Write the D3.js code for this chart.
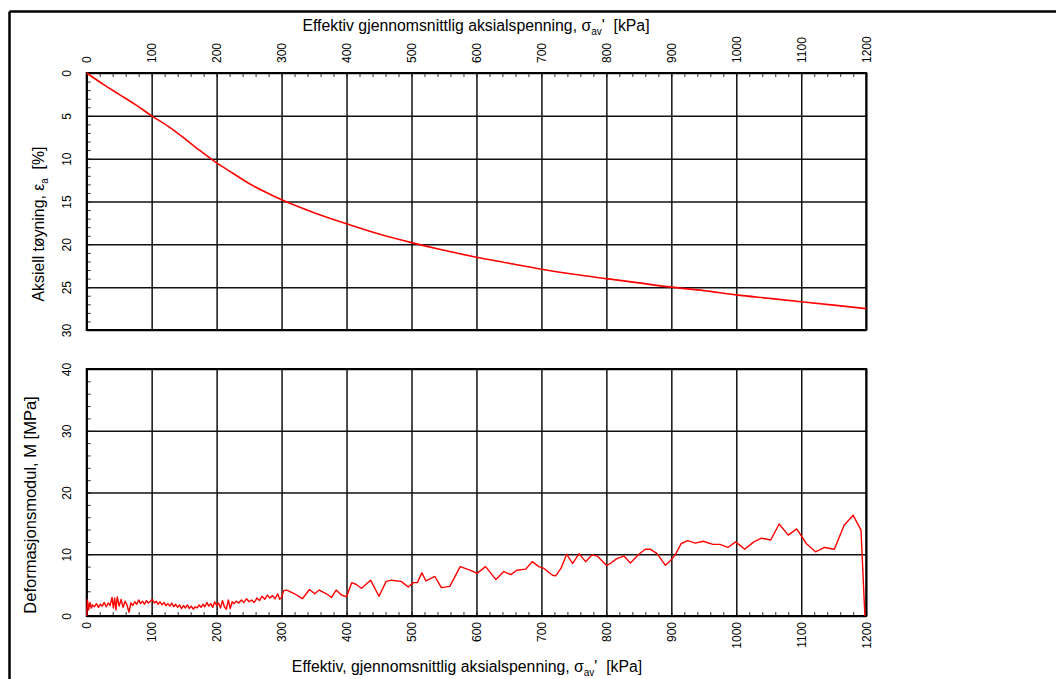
<!DOCTYPE html>
<html>
<head>
<meta charset="utf-8">
<script src="https://cdn.jsdelivr.net/npm/d3@7"></script>
<style>
  body { margin: 0; background: #fff; }
  svg { font-family: "Liberation Sans", Arial, sans-serif; }
  .grid line { stroke: #111; stroke-width: 1.5; }
  .grid path { display: none; }
  .minor line { stroke: #333; stroke-width: 1; }
  .minor path { display: none; }
  .lbl text { font-size: 12px; fill: #000; }
</style>
</head>
<body>
<div id="chart"></div>
<script>
// axial strain curve (top panel)
var strainStress = [0, 25, 50, 75, 100, 125, 150, 175, 200, 225, 250, 275, 300, 350, 400, 450, 500, 550,
  600, 650, 700, 750, 800, 850, 900, 950, 1000, 1050, 1100, 1150, 1200];
var strainValue = [0, 1.3, 2.5, 3.7, 5.0, 6.2, 7.6, 9.1, 10.5, 11.7, 12.9, 13.9, 14.8, 16.3, 17.6, 18.8, 19.8, 20.7,
  21.5, 22.2, 22.9, 23.5, 24.0, 24.5, 25.0, 25.4, 25.9, 26.3, 26.7, 27.1, 27.5];

// deformation modulus (bottom panel)
var modStress = [0, 1, 3, 5, 7, 9, 12, 15, 18, 21, 24, 27, 30, 33, 36, 39, 41, 43, 45, 47,
  50, 53, 56, 59, 62, 65, 68, 71, 74, 77, 80, 83, 86, 89, 92, 95, 98, 101, 104, 107,
  110, 113, 116, 119, 122, 125, 128, 131, 134, 137, 140, 143, 146, 149, 152, 155, 158, 161, 164, 167,
  170, 173, 176, 179, 182, 185, 188, 191, 194, 197, 200, 203, 206, 209, 212, 215, 218, 221, 224, 227,
  230, 234, 238, 242, 246, 250, 254, 258, 262, 266, 270, 274, 278, 282, 286, 290, 294, 297, 300, 303,
  308, 320, 332, 343, 351, 358, 369, 377, 384, 392, 400, 408, 415, 423, 437, 450, 461, 469, 484, 495,
  503, 509, 516, 522, 536, 546, 559, 575, 591, 601, 614, 630, 642, 653, 662, 676, 686, 696, 704, 717,
  722, 730, 739, 748, 758, 768, 778, 786, 800, 806, 816, 827, 837, 850, 860, 868, 878, 891, 898, 906,
  915, 925, 937, 949, 964, 975, 987, 999, 1013, 1027, 1039, 1053, 1066, 1080, 1093, 1108, 1122, 1136, 1151, 1166,
  1180, 1192, 1198];
var modValue = [0, 2.6, 1.0, 2.2, 1.3, 1.8, 1.5, 2.0, 1.4, 1.9, 1.6, 2.2, 1.5, 2.1, 1.7, 3.0, 1.3, 2.9, 1.0, 3.1,
  1.6, 2.7, 1.4, 2.4, 1.8, 0.6, 2.1, 1.7, 2.3, 1.9, 2.6, 2.0, 2.4, 1.9, 2.5, 2.1, 2.4, 2.7, 2.1, 2.4,
  1.9, 2.3, 1.8, 2.2, 1.7, 2.0, 1.6, 2.1, 1.5, 1.9, 1.4, 1.8, 1.2, 1.7, 1.3, 1.8, 1.2, 1.6, 1.1, 1.5,
  1.3, 1.8, 1.4, 1.9, 1.5, 2.2, 1.6, 2.0, 1.4, 2.3, 1.7, 2.1, 1.3, 2.5, 1.5, 1.1, 2.6, 1.2, 2.3, 2.0,
  2.4, 2.1, 2.6, 2.2, 2.8, 2.3, 2.6, 2.2, 2.9, 2.5, 3.2, 2.7, 3.4, 2.9, 3.3, 2.8, 3.6, 2.7, 3.0, 4.1,
  4.2, 3.6, 2.8, 4.3, 3.6, 4.2, 3.6, 3.0, 4.2, 3.4, 3.1, 5.4, 5.1, 4.5, 5.8, 3.2, 5.6, 5.8, 5.6, 4.7,
  5.4, 5.4, 7.0, 5.7, 6.4, 4.6, 4.8, 8.0, 7.4, 6.9, 8.0, 5.9, 7.2, 6.7, 7.4, 7.6, 8.8, 8.0, 7.7, 6.6,
  6.5, 7.7, 10.0, 8.5, 10.1, 8.8, 9.9, 9.7, 8.2, 8.5, 9.3, 9.7, 8.6, 10.0, 10.8, 10.8, 10.1, 8.2, 8.9, 9.9,
  11.7, 12.2, 11.8, 12.1, 11.6, 11.6, 11.1, 12.0, 10.8, 12.0, 12.6, 12.3, 14.9, 13.1, 14.1, 11.7, 10.4, 11.1, 10.8, 14.7,
  16.3, 13.9, 0];

var xMajor = d3.range(0, 1201, 100);

var width = 1056, height = 679;
var left = 86.7, right = 866.2;
var topY0 = 73, topY1 = 330;
var botY0 = 369, botY1 = 616;

var svg = d3.select("#chart").append("svg")
  .attr("width", width).attr("height", height);

// outer frame lines
svg.append("line").attr("x1", 9.5).attr("x2", width).attr("y1", 11.5).attr("y2", 11.5)
  .style("stroke", "#000").style("stroke-width", 2.5);
svg.append("line").attr("x1", 9.5).attr("x2", 9.5).attr("y1", 11.5).attr("y2", height)
  .style("stroke", "#000").style("stroke-width", 2.5);

var x = d3.scaleLinear().domain([0, 1200]).range([left, right]);
var yTop = d3.scaleLinear().domain([0, 30]).range([topY0, topY1]);
var yBot = d3.scaleLinear().domain([0, 40]).range([botY1, botY0]);

// ---- top panel ----
// minor ticks
svg.append("g").attr("class", "minor").attr("transform", "translate(0," + topY0 + ")")
  .call(d3.axisTop(x).tickValues(d3.range(0, 1201, 20)).tickSize(-4).tickFormat(""));
svg.append("g").attr("class", "minor").attr("transform", "translate(" + left + ",0)")
  .call(d3.axisLeft(yTop).tickValues(d3.range(0, 31, 1)).tickSize(-4).tickFormat(""));

// grid + labels
svg.append("g").attr("class", "grid lbl").attr("transform", "translate(0," + topY0 + ")")
  .call(d3.axisTop(x).tickValues(xMajor).tickSize(-(topY1 - topY0)).tickFormat(d3.format("d")))
  .selectAll("text")
  .attr("transform", "rotate(-90)")
  .attr("x", 10).attr("y", 0).attr("dy", "0.35em")
  .style("text-anchor", "start");

svg.append("g").attr("class", "grid lbl").attr("transform", "translate(" + left + ",0)")
  .call(d3.axisLeft(yTop).tickValues(d3.range(0, 31, 5)).tickSize(-(right - left)).tickFormat(d3.format("d")))
  .selectAll("text")
  .attr("transform", "rotate(-90)")
  .attr("x", 0).attr("y", -20).attr("dy", "0.35em")
  .style("text-anchor", "middle");

svg.append("rect").attr("x", left).attr("y", topY0)
  .attr("width", right - left).attr("height", topY1 - topY0)
  .style("fill", "none").style("stroke", "#000").style("stroke-width", 2);

var lineTop = d3.line()
  .x(function (d) { return x(d[0]); })
  .y(function (d) { return yTop(d[1]); })
  .curve(d3.curveMonotoneX);

svg.append("path")
  .datum(strainStress.map(function (s, i) { return [s, strainValue[i]]; }))
  .attr("d", lineTop)
  .style("fill", "none").style("stroke", "#ff0000").style("stroke-width", 1.6);

// ---- bottom panel ----
svg.append("g").attr("class", "minor").attr("transform", "translate(0," + botY1 + ")")
  .call(d3.axisBottom(x).tickValues(d3.range(0, 1201, 20)).tickSize(-4).tickFormat(""));
svg.append("g").attr("class", "minor").attr("transform", "translate(" + left + ",0)")
  .call(d3.axisLeft(yBot).tickValues(d3.range(0, 41, 2)).tickSize(-4).tickFormat(""));

svg.append("g").attr("class", "grid lbl").attr("transform", "translate(0," + botY1 + ")")
  .call(d3.axisBottom(x).tickValues(xMajor).tickSize(-(botY1 - botY0)).tickFormat(d3.format("d")))
  .selectAll("text")
  .attr("transform", "rotate(-90)")
  .attr("x", -6).attr("y", 0).attr("dy", "0.35em")
  .style("text-anchor", "end");

svg.append("g").attr("class", "grid lbl").attr("transform", "translate(" + left + ",0)")
  .call(d3.axisLeft(yBot).tickValues(d3.range(0, 41, 10)).tickSize(-(right - left)).tickFormat(d3.format("d")))
  .selectAll("text")
  .attr("transform", "rotate(-90)")
  .attr("x", 0).attr("y", -20).attr("dy", "0.35em")
  .style("text-anchor", "middle");

svg.append("rect").attr("x", left).attr("y", botY0)
  .attr("width", right - left).attr("height", botY1 - botY0)
  .style("fill", "none").style("stroke", "#000").style("stroke-width", 2);

var lineBot = d3.line()
  .x(function (d) { return x(d[0]); })
  .y(function (d) { return yBot(d[1]); });

svg.append("path")
  .datum(modStress.map(function (s, i) { return [s, modValue[i]]; }))
  .attr("d", lineBot)
  .style("fill", "none").style("stroke", "#ff0000").style("stroke-width", 1.4)
  .style("stroke-linejoin", "round");

// ---- titles ----
function sigmaTitle(cx, cy, first) {
  var txt = svg.append("text").attr("x", cx).attr("y", cy)
    .style("font-size", "15.8px").style("text-anchor", "middle").style("white-space", "pre");
  txt.append("tspan").text(first + "\u03c3");
  txt.append("tspan").text("av").style("font-size", "10px").attr("dy", 4);
  txt.append("tspan").text("'  [kPa]").attr("dy", -4);
}
sigmaTitle(476, 31, "Effektiv gjennomsnittlig aksialspenning, ");
sigmaTitle(467, 672, "Effektiv, gjennomsnittlig aksialspenning, ");

var yt1 = svg.append("text").attr("transform", "translate(44,224) rotate(-90)")
  .style("font-size", "15.8px").style("text-anchor", "middle").style("white-space", "pre");
yt1.append("tspan").text("Aksiell tøyning, \u03b5");
yt1.append("tspan").text("a").style("font-size", "10px").attr("dy", 4);
yt1.append("tspan").text("  [%]").attr("dy", -4);

svg.append("text").attr("transform", "translate(36,505) rotate(-90)")
  .style("font-size", "16.5px").style("text-anchor", "middle")
  .text("Deformasjonsmodul, M [MPa]");
</script>
</body>
</html>
